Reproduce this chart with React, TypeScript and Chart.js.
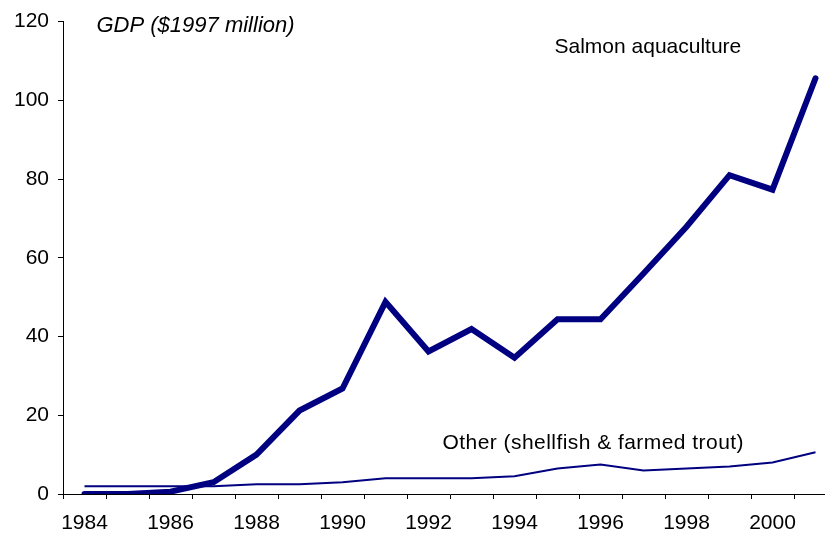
import React, { useEffect, useRef } from "react";
import { Chart, registerables } from "chart.js";

Chart.register(...registerables);

const years: string[] = [
  "1984", "1985", "1986", "1987", "1988", "1989", "1990", "1991", "1992",
  "1993", "1994", "1995", "1996", "1997", "1998", "1999", "2000", "2001",
];
const salmon: number[] = [0, 0, 0.6, 3, 10, 21.2, 26.8, 48.8, 36.2, 41.9, 34.6, 44.4, 44.4, 56, 67.9, 81, 77.3, 105.6];
const other: number[] = [2, 2, 2, 2, 2.5, 2.5, 3, 4, 4, 4, 4.5, 6.5, 7.5, 6, 6.5, 7, 8, 10.6];
const yTicks: number[] = [0, 20, 40, 60, 80, 100, 120];

const titleText = "GDP ($1997 million)";
const salmonLabel = "Salmon aquaculture";
const otherLabel = "Other (shellfish & farmed trout)";

const FONT = "'Liberation Sans', Arial, sans-serif";

const labelsPlugin = {
  id: "seriesLabels",
  afterDraw(chart: any) {
    const { ctx, scales } = chart;
    const x = scales.x;
    const y = scales.y;
    ctx.save();
    ctx.fillStyle = "#000";
    ctx.textBaseline = "middle";
    ctx.textAlign = "left";
    // title
    ctx.font = `italic 22px ${FONT}`;
    ctx.fillText(titleText, x.getPixelForValue(0) + 12, y.getPixelForValue(118.9));
    ctx.font = `21px ${FONT}`;
    ctx.fillText(salmonLabel, x.getPixelForValue(10) + 40, y.getPixelForValue(113.5));
    (ctx as any).letterSpacing = "0.45px";
    ctx.fillText(otherLabel, x.getPixelForValue(8) + 14, y.getPixelForValue(13.0));
    ctx.restore();
  },
};

export default function App() {
  const ref = useRef<HTMLCanvasElement | null>(null);
  useEffect(() => {
    if (!ref.current) return;
    const chart = new Chart(ref.current, {
      type: "line",
      data: {
        labels: years,
        datasets: [
          {
            label: salmonLabel,
            data: salmon,
            borderColor: "#000080",
            borderWidth: 6,
            pointRadius: 0,
            tension: 0,
            borderCapStyle: "round",
            borderJoinStyle: "miter",
            fill: false,
          },
          {
            label: otherLabel,
            data: other,
            borderColor: "#000080",
            borderWidth: 2,
            pointRadius: 0,
            tension: 0,
            fill: false,
          },
        ],
      },
      options: {
        responsive: false,
        animation: false,
        events: [],
        layout: { padding: { top: 18, right: 3, left: 0, bottom: 0 } },
        plugins: {
          legend: { display: false },
          title: { display: false },
          tooltip: { enabled: false },
        },
        scales: {
          x: {
            type: "category",
            offset: true,
            grid: {
              offset: true,
              drawOnChartArea: false,
              drawTicks: true,
              tickLength: 5,
              color: "#000",
            },
            border: { display: true, color: "#000", width: 1 },
            ticks: {
              autoSkip: false,
              maxRotation: 0,
              minRotation: 0,
              padding: 12,
              color: "#000",
              font: { family: FONT, size: 21 },
              callback: (_v: any, i: number) => (Number(years[i]) % 2 === 0 ? years[i] : ""),
            },
            afterFit: (scale: any) => {
              scale.height = 41;
            },
          },
          y: {
            min: 0,
            max: 120,
            afterBuildTicks: (scale: any) => {
              scale.ticks = yTicks.map((v) => ({ value: v }));
            },
            grid: {
              drawOnChartArea: false,
              drawTicks: true,
              tickLength: 5,
              color: "#000",
            },
            border: { display: true, color: "#000", width: 1 },
            ticks: {
              padding: 9,
              color: "#000",
              font: { family: FONT, size: 21 },
            },
            afterFit: (scale: any) => {
              scale.width = 63;
            },
          },
        },
      },
      plugins: [labelsPlugin],
    });
    return () => chart.destroy();
  }, []);
  return (
    <div
      style={{
        position: "fixed",
        top: 0,
        left: 0,
        width: 825,
        height: 535,
        overflow: "hidden",
        background: "#fff",
      }}
    >
      <canvas ref={ref} width={840} height={535} style={{ display: "block" }} />
    </div>
  );
}
